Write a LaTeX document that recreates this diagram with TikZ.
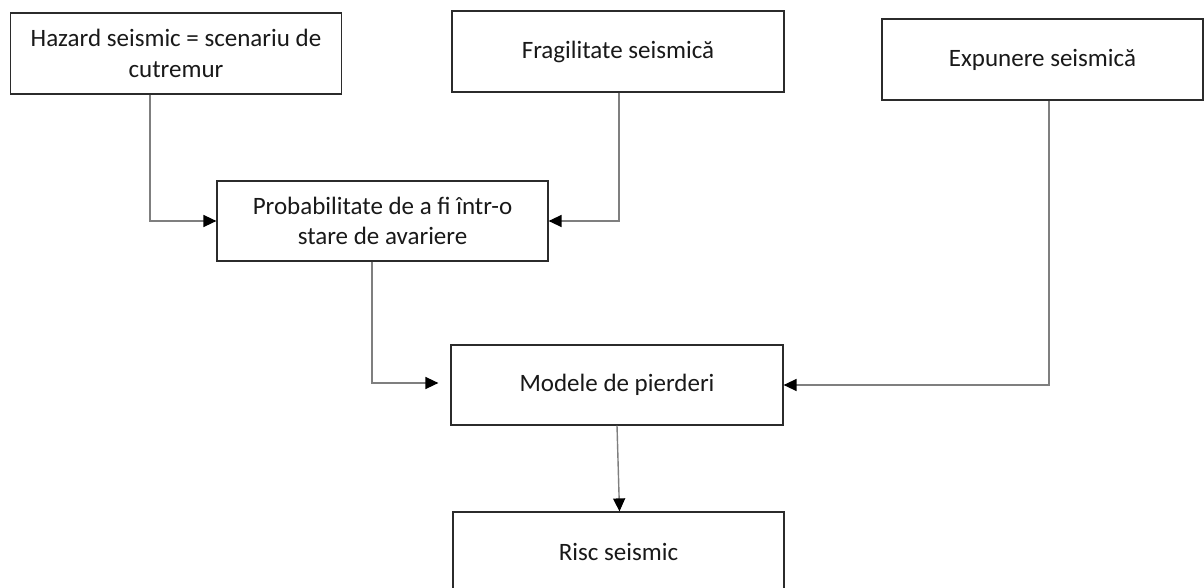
\documentclass[tikz,border=0pt]{standalone}
\usepackage{fontspec}
\setmainfont{Carlito}
\usepackage{xcolor}
\definecolor{boxLine}{HTML}{2B2B2B}
\definecolor{connLine}{HTML}{7F7F7F}
\usetikzlibrary{arrows.meta,positioning}
\tikzset{
    block/.style={
        draw=boxLine,
        fill=white,
        rectangle,
        align=center,
        line width=1.2pt,
        minimum width=331pt,
        minimum height=81pt,
        inner sep=0pt,
        font=\fontsize{25}{30.5}\selectfont\color{black!90}
    },
    conn/.style={
        -{Triangle[length=13pt,width=12pt,color=black]},
        line width=1.4pt,
        draw=connLine
    }
}

\begin{document}
\begin{tikzpicture}[x=1pt,y=-1pt]
    \useasboundingbox (0,0) rectangle (1204,588);

    % Inputs
    \node[block] (hazard) at (176,53.5) {Hazard seismic = scenariu de\\cutremur};
    \node[block, minimum width=332pt] (frag) at (618,51.5) {Fragilitate seismică};
    \node[block, minimum width=321pt] (expun) at (1042.5,59.5) {Expunere seismică};

    % Middle
    \node[block, minimum height=80pt] (prob) at (382.5,221) {Probabilitate de a fi într-o\\stare de avariere};
    \node[block, minimum width=332pt, minimum height=80pt] (modele) at (617,385) {Modele de pierderi};

    % Result
    \node[block, minimum height=80pt] (risc) at (618.5,552) {Risc seismic};

    % Arrows
    \draw[conn] ([xshift=-26pt]hazard.south) |- (prob.west);
    \draw[conn] ([xshift=1pt]frag.south) |- (prob.east);
    \draw[conn, shorten >=12pt] ([xshift=-10.5pt]prob.south) |- ([yshift=2pt]modele.west);
    \draw[conn] ([xshift=6.5pt]expun.south) |- (modele.east);
    \draw[conn] (modele.south) -- ([xshift=1pt]risc.north);
\end{tikzpicture}
\end{document}
